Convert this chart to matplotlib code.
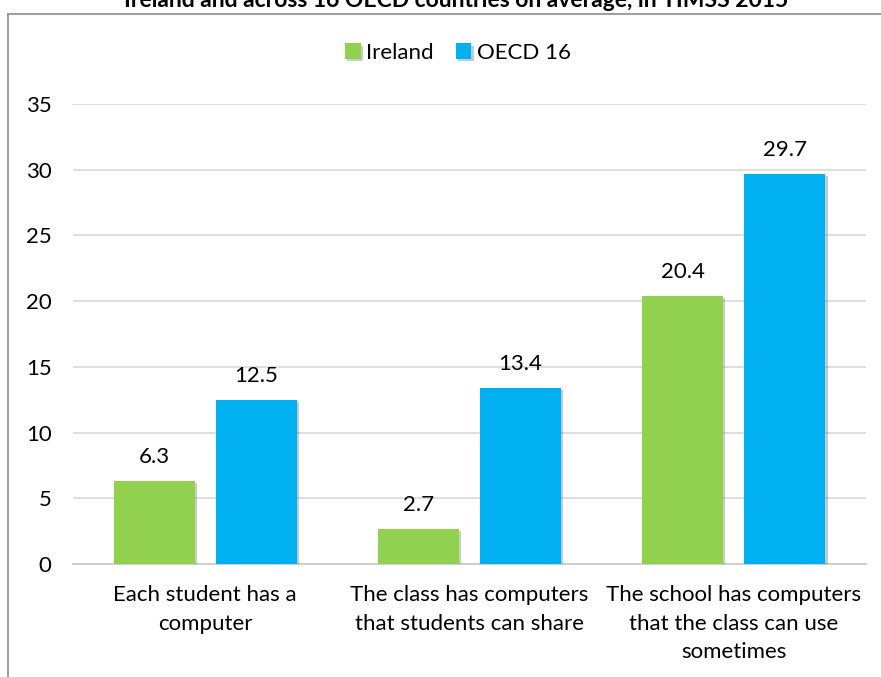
import numpy as np
import matplotlib.pyplot as plt
from matplotlib import patheffects as pe
from matplotlib.lines import Line2D

# Datos
categorias = ["Each student has a\ncomputer",
              "The class has computers\nthat students can share",
              "The school has computers\nthat the class can use\nsometimes"]
ireland = [6.3, 2.7, 20.4]
oecd16 = [12.5, 13.4, 29.7]
series = ["Ireland", "OECD 16"]
titulo = "Ireland and across 16 OECD countries on average, in TIMSS 2015"

plt.rcParams['font.family'] = ['Lato', 'DejaVu Sans']

fig = plt.figure(figsize=(8.81, 6.77), dpi=100)
ax = fig.add_axes([73/881, 1 - 564/677, (866 - 73)/881, (564 - 104)/677])

x = np.arange(len(categorias))
ancho = 0.307
sombra = [pe.SimplePatchShadow(offset=(1.5, -1.5), alpha=0.25), pe.Normal()]

b1 = ax.bar(x - 0.193, ireland, ancho, color='#92D050', label=series[0], zorder=3)
b2 = ax.bar(x + 0.193, oecd16, ancho, color='#00B0F0', label=series[1], zorder=3)
for b in list(b1) + list(b2):
    b.set_path_effects(sombra)

for barras, vals in ((b1, ireland), (b2, oecd16)):
    ax.bar_label(barras, labels=['%.1f' % v for v in vals], padding=10, fontsize=16)

ax.set_ylim(0, 35)
ax.set_xlim(-0.5, 2.5)
ax.set_yticks(range(0, 36, 5))
ax.set_xticks(x)
ax.set_xticklabels(categorias, fontsize=16, linespacing=1.55)
ax.tick_params(axis='y', length=0, pad=15.5, labelsize=16)
ax.tick_params(axis='x', length=0, pad=15)
ax.yaxis.grid(True, color='#D9D9D9', linewidth=1.2, zorder=0)
ax.set_axisbelow(True)
for s in ['top', 'right', 'left']:
    ax.spines[s].set_visible(False)
ax.spines['bottom'].set_color('#D0D0D0')
ax.spines['bottom'].set_linewidth(1.5)

ax.legend(loc='center', bbox_to_anchor=(458/881, 1 - 53/677), bbox_transform=fig.transFigure,
          ncol=2, frameon=False, fontsize=16, handlelength=0.7, handleheight=0.7,
          handletextpad=0.25, columnspacing=1.0)

# Marco del área del gráfico (recortado a la derecha y abajo)
fig.add_artist(Line2D([8/881, 8/881], [0, 1 - 14/677], color='#8C8C8C', lw=1.2, transform=fig.transFigure))
fig.add_artist(Line2D([8/881, 1], [1 - 14/677, 1 - 14/677], color='#8C8C8C', lw=1.2, transform=fig.transFigure))

# Título recortado en la parte superior
fig.text(456/881, 1 - 7/677, titulo, ha='center', va='baseline', fontsize=16.5, fontweight='bold')

fig.savefig("out.png", dpi=100)
